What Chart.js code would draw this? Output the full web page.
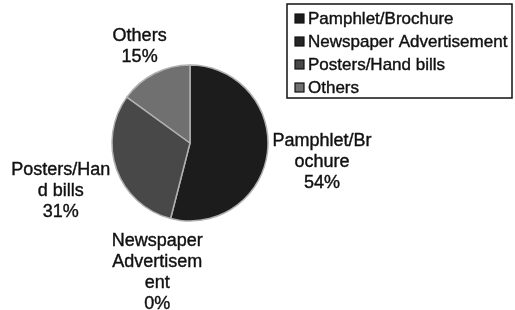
<!DOCTYPE html>
<html>
<head>
<meta charset="utf-8">
<script src="https://cdn.jsdelivr.net/npm/chart.js@4.4.1/dist/chart.umd.min.js"></script>
<style>
  html, body { margin: 0; padding: 0; background: #fff; }
  #wrap { width: 515px; height: 310px; }
</style>
</head>
<body>
<div id="wrap"><canvas id="pie" width="515" height="310"></canvas></div>
<script>
// categories and values
const categories = ['Pamphlet/Brochure', 'Newspaper Advertisement', 'Posters/Hand bills', 'Others']
const shares = [54, 0, 31, 15]
// how the data labels are wrapped in the original
const labelLines = [
  ['Pamphlet/Br', 'ochure'],
  ['Newspaper', 'Advertisem', 'ent'],
  ['Posters/Han', 'd bills'],
  ['Others']
]
const sliceColors = ['#1c1c1c', '#262626', '#484848', '#707070']

const LABEL_FONT = '18px "Liberation Sans", Arial, sans-serif'
const LEGEND_FONT = '17px "Liberation Sans", Arial, sans-serif'

// text a bit heavier, like the scanned original
function heavyText(ctx, s, x, y) {
  ctx.fillText(s, x, y)
  ctx.strokeText(s, x, y)
}

// data labels outside the pie, pushed out along each slice's middle angle
const outsideLabels = {
  id: 'outsideLabels',
  afterDatasetsDraw(chart) {
    const ctx = chart.ctx
    const meta = chart.getDatasetMeta(0)
    const total = shares.reduce((a, b) => a + b, 0)
    ctx.save()
    ctx.font = LABEL_FONT
    ctx.fillStyle = '#111'
    ctx.strokeStyle = '#111'
    ctx.lineWidth = 0.4
    ctx.textAlign = 'center'
    ctx.textBaseline = 'middle'
    const lineH = 21
    meta.data.forEach((arc, i) => {
      const p = arc.getProps(['x', 'y', 'startAngle', 'endAngle', 'outerRadius'], true)
      const mid = (p.startAngle + p.endAngle) / 2
      const dx = Math.cos(mid), dy = Math.sin(mid)
      const lines = labelLines[i].concat([Math.round(shares[i] / total * 100) + '%'])
      const w = Math.max(...lines.map(l => ctx.measureText(l).width))
      const h = lines.length * lineH
      const ext = Math.abs(dx) * w / 2 + Math.abs(dy) * h / 2
      const d = p.outerRadius + 2 + ext
      const cx = p.x + dx * d
      const cy = p.y + dy * d + 2
      lines.forEach((l, k) => {
        heavyText(ctx, l, cx, cy - h / 2 + lineH * (k + 0.5))
      })
    })
    ctx.restore()
  }
}

// boxed legend in the top right corner
const boxLegend = {
  id: 'boxLegend',
  afterDraw(chart) {
    const ctx = chart.ctx
    const x0 = 287, y0 = 4, bw = 225, bh = 94
    ctx.save()
    ctx.strokeStyle = '#111'
    ctx.lineWidth = 1.5
    ctx.strokeRect(x0, y0, bw, bh)
    ctx.font = LEGEND_FONT
    ctx.textBaseline = 'middle'
    categories.forEach((c, i) => {
      const y = y0 + 14 + i * 23
      ctx.fillStyle = sliceColors[i]
      ctx.fillRect(x0 + 8, y - 4, 9, 9)
      ctx.strokeStyle = '#111'
      ctx.lineWidth = 1.2
      ctx.strokeRect(x0 + 8, y - 4, 9, 9)
      ctx.fillStyle = '#111'
      ctx.lineWidth = 0.4
      heavyText(ctx, c, x0 + 21, y + 1)
    })
    ctx.restore()
  }
}

new Chart(document.getElementById('pie'), {
  type: 'pie',
  data: {
    labels: categories,
    datasets: [{
      data: shares,
      backgroundColor: sliceColors,
      borderColor: '#b0b0b0',
      borderWidth: 1.5
    }]
  },
  options: {
    responsive: false,
    animation: false,
    radius: 78,
    layout: { padding: { right: 135, bottom: 24 } },
    plugins: {
      legend: { display: false },
      tooltip: { enabled: false }
    }
  },
  plugins: [outsideLabels, boxLegend]
})
</script>
</body>
</html>
